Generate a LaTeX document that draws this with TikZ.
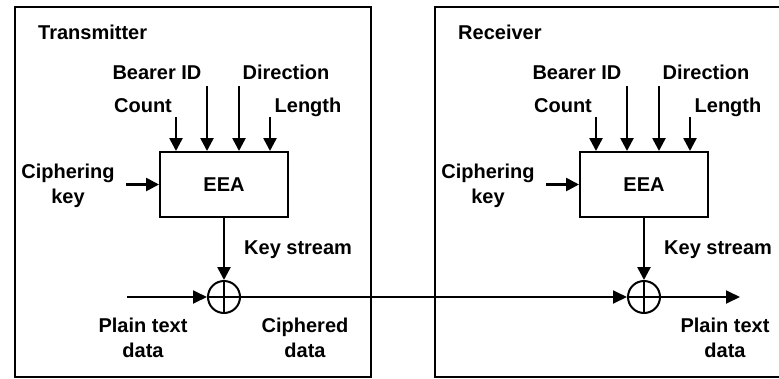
\documentclass[tikz,border=0pt]{standalone}
\usepackage{fontspec}
\setmainfont{Liberation Sans}
\usetikzlibrary{arrows.meta,positioning,calc}
\tikzset{
  % Rammen om sender/modtager
  frame/.style={draw, line width=2.4pt, inner sep=0pt},
  eea/.style={draw, line width=2pt, minimum width=128pt, minimum height=65pt,
    inner sep=0pt, font=\fontsize{20}{25}\selectfont\bfseries},
  lbl/.style={font=\fontsize{20}{25}\selectfont\bfseries, inner sep=1pt, align=center},
  sig/.style={line width=2.6pt, -{Triangle[length=13pt,width=13pt]}},
  data/.style={line width=1.8pt, -{Triangle[length=14pt,width=13pt]}},
  xorc/.style={draw, circle, line width=2pt, minimum size=32pt, inner sep=0pt},
  cross/.style={line width=1.6pt},
}
% En krypteringsenhed: ramme, titel, EEA-blok, indgange og XOR
\newcommand{\cipherunit}[3]{%
  \begin{scope}[xshift=#2pt]
  \node[frame, anchor=north west, minimum width=356pt, minimum height=370pt] (#1frame) at (14,6) {};
  \node[lbl, anchor=west] (#1title) at (37,32) {#3};
  \node[eea] (#1eea) at (224,184.5) {EEA};
  \node[lbl, anchor=base] (#1bearer) at (157,79) {Bearer ID};
  \node[lbl, anchor=base] (#1dir) at (286,79) {Direction};
  \node[lbl, anchor=base] (#1count) at (143,112) {Count};
  \node[lbl, anchor=base] (#1len) at (308,112) {Length};
  \foreach \dx/\h in {17/34,48/65,80/65,111/34}
    \draw[sig] ($(#1eea.north west)+(\dx,-\h)$) -- ($(#1eea.north west)+(\dx,0)$);
  \node[lbl] (#1key) at (68,186) {Ciphering\\key};
  \draw[sig] ($(#1eea.west)+(-33,0)$) -- (#1eea.west);
  \node[xorc] (#1xor) at (224,297) {};
  \draw[cross] (#1xor.north) -- (#1xor.south) (#1xor.west) -- (#1xor.east);
  \draw[sig] (#1eea.south) -- (#1xor.north);
  \node[lbl, anchor=west] (#1ks) at (243,250) {Key stream};
  \end{scope}}

\begin{document}
\begin{tikzpicture}[x=1pt,y=-1pt]
\clip (0,0) rectangle (779,378);

% ----- sender og modtager -----
\cipherunit{t}{0}{Transmitter}
\cipherunit{r}{420}{Receiver}

% ----- datavej -----
\coordinate (tin) at (127,297);
\coordinate (rout) at (740,297);
\draw[data] (tin) -- (txor.west);
\draw[data] (txor.east) -- (rxor.west);
\draw[data] (rxor.east) -- (rout);

\node[lbl] (tplain) at (143,338) {Plain text\\data};
\node[lbl] (tciph) at (305,338) {Ciphered\\data};
\node[lbl] (rplain) at (725,338) {Plain text\\data};

\end{tikzpicture}
\end{document}
